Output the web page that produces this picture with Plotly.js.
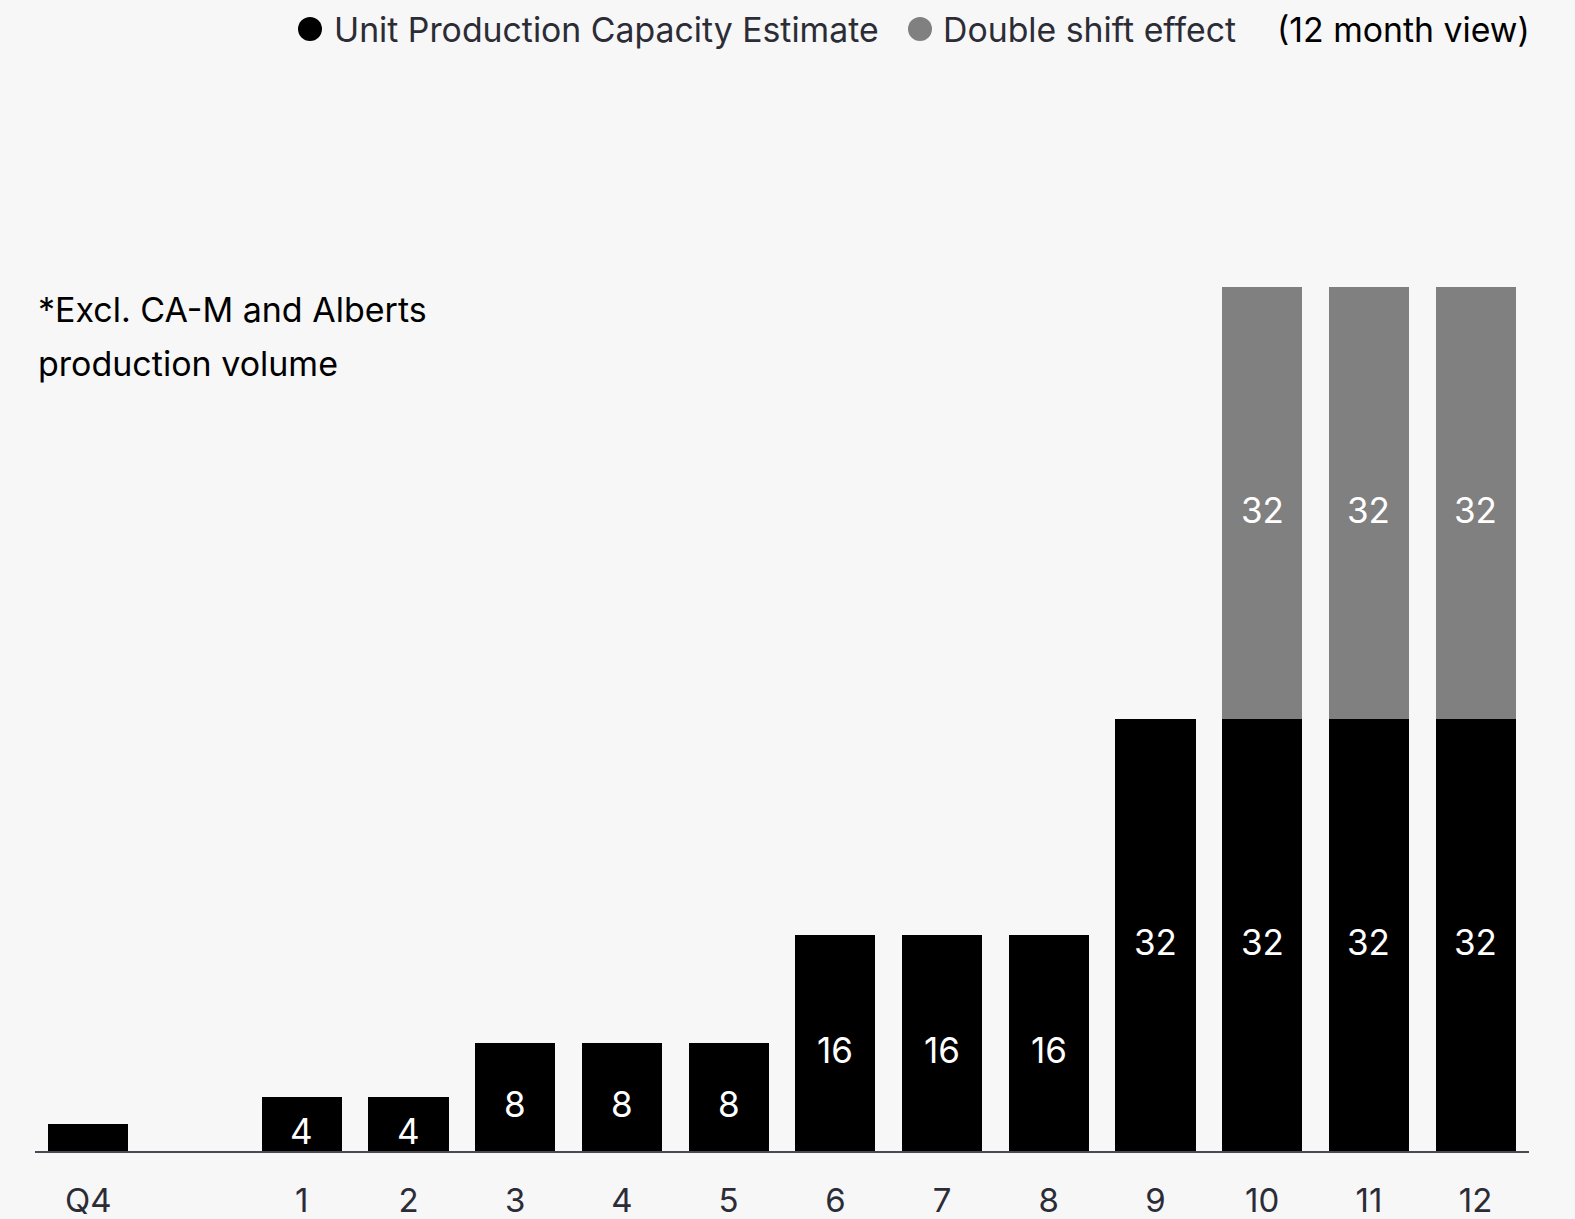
<!DOCTYPE html>
<html>
<head>
<meta charset="utf-8">
<script src="https://cdn.plot.ly/plotly-3.0.1.min.js"></script>
<style>
  html, body { margin: 0; padding: 0; background: #f7f7f7; }
  #chart { width: 1575px; height: 1219px; }
</style>
</head>
<body>
<div id="chart"></div>
<script>
// Month categories (a blank slot separates Q4 from the monthly view)
const categories = ["Q4", " ", "1", "2", "3", "4", "5", "6", "7", "8", "9", "10", "11", "12"];
// Unit production capacity estimate per period
const capacity = [2, null, 4, 4, 8, 8, 8, 16, 16, 16, 32, 32, 32, 32];
// Additional capacity from running a double shift
const doubleShift = [null, null, null, null, null, null, null, null, null, null, null, 32, 32, 32];

const W = 1575, H = 1219;
const M = { l: 35, r: 46, t: 206, b: 68 };
const plotW = W - M.l - M.r, plotH = H - M.t - M.b;
const px = x => (x - M.l) / plotW;
const py = y => (H - M.b - y) / plotH;

const FONT = "Inter, 'Noto Sans', sans-serif";
const INK = "#2c2c36";

const traces = [
  {
    type: "bar",
    name: "Unit Production Capacity Estimate",
    x: categories,
    y: capacity,
    marker: { color: "#000000", line: { width: 0 } },
    showlegend: false,
    hoverinfo: "x+y"
  },
  {
    type: "bar",
    name: "Double shift effect",
    x: categories,
    y: doubleShift,
    marker: { color: "#808080", line: { width: 0 } },
    showlegend: false,
    hoverinfo: "x+y"
  }
];

// Value labels centred on each segment (the small Q4 bar carries none);
// x is the category index on the category axis
const valueLabels = [];
categories.forEach((c, i) => {
  const a = capacity[i], b = doubleShift[i];
  if (a !== null && a >= 4) valueLabels.push({ x: i, y: a / 2, v: a });
  if (b !== null) valueLabels.push({ x: i, y: (a || 0) + b / 2, v: b });
});
const labelAnns = valueLabels.map(d => ({
  xref: "x", yref: "y", x: d.x, y: d.y, yshift: -7,
  text: String(d.v), showarrow: false,
  xanchor: "center", yanchor: "middle",
  font: { family: FONT, size: 35, color: "#ffffff" }
}));

const legendY = py(29);
const dot = (cx, color) => ({
  type: "circle", xref: "paper", yref: "paper",
  xsizemode: "pixel", ysizemode: "pixel",
  xanchor: px(cx), yanchor: legendY,
  x0: -12, x1: 12, y0: -12, y1: 12,
  fillcolor: color, line: { width: 0 }
});

const textAnn = (x, y, text, size, color) => ({
  xref: "paper", yref: "paper", x: px(x), y: py(y),
  xanchor: "left", yanchor: "middle", showarrow: false,
  text: text, font: { family: FONT, size: size, color: color }
});

const layout = {
  width: W, height: H,
  margin: M,
  paper_bgcolor: "#f7f7f7",
  plot_bgcolor: "#f7f7f7",
  barmode: "stack",
  bargap: 0.25,
  showlegend: false,
  font: { family: FONT },
  xaxis: {
    type: "category",
    categoryorder: "array",
    categoryarray: categories,
    range: [-0.5, categories.length - 0.5],
    showline: true, linecolor: "#4a4a55", linewidth: 2,
    ticks: "", showgrid: false, zeroline: false,
    ticklabelstandoff: 19,
    tickfont: { family: FONT, size: 33, color: INK },
    fixedrange: true
  },
  yaxis: {
    range: [0, 70], visible: false, showgrid: false, zeroline: false, fixedrange: true
  },
  shapes: [dot(310, "#000000"), dot(920, "#808080")],
  annotations: [
    textAnn(332, 29, "Unit Production Capacity Estimate", 33.8, INK),
    textAnn(941, 29, "Double shift effect", 33.8, INK),
    textAnn(1275, 29, "(12 month view)", 33.8, "#000000"),
    textAnn(36, 309, "*Excl. CA-M and Alberts", 34, "#000000"),
    textAnn(36, 363, "production volume", 34, "#000000")
  ].concat(labelAnns)
};

Plotly.newPlot("chart", traces, layout, { displayModeBar: false, staticPlot: true });
</script>
</body>
</html>
